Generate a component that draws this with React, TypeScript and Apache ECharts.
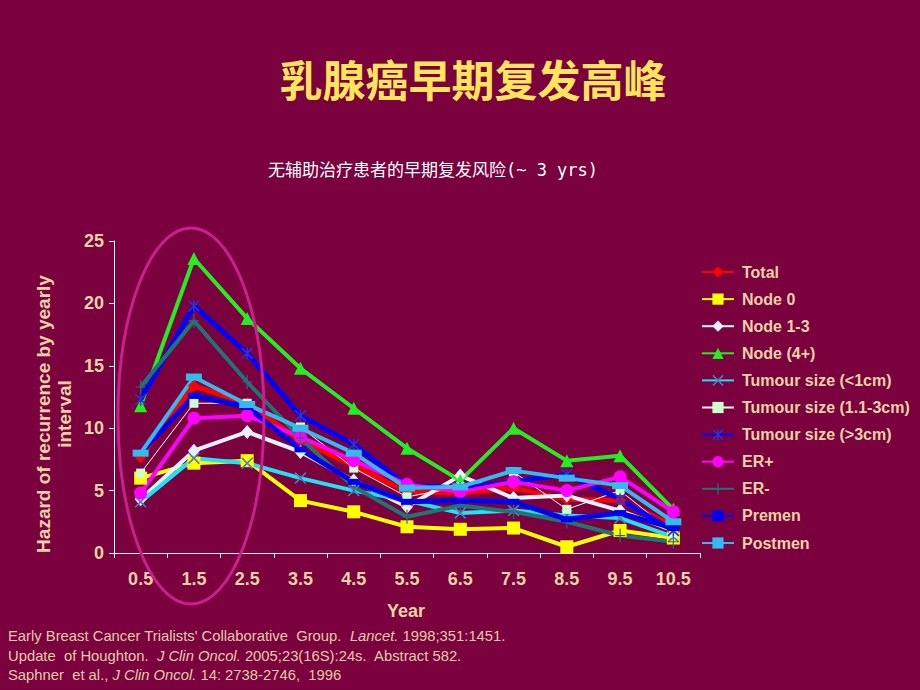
import React, { useEffect, useRef } from "react";
import * as echarts from "echarts";

const years = ["0.5", "1.5", "2.5", "3.5", "4.5", "5.5", "6.5", "7.5", "8.5", "9.5", "10.5"];
const yTicks = { min: 0, max: 25, interval: 5 };

const total = [7.7, 13.4, 12.0, 9.0, 7.0, 4.9, 4.8, 5.2, 4.3, 4.2, 2.2];
const node0 = [6.0, 7.2, 7.4, 4.2, 3.3, 2.1, 1.9, 2.0, 0.5, 1.8, 1.2];
const node13 = [4.3, 8.2, 9.7, 8.1, 5.8, 3.7, 6.2, 4.4, 4.6, 3.4, 1.8];
const node4 = [11.8, 23.6, 18.8, 14.8, 11.6, 8.4, 5.8, 10.0, 7.4, 7.8, 3.5];
const sizeLt1 = [4.1, 7.6, 7.2, 6.0, 5.0, 4.2, 3.2, 3.4, 3.0, 2.8, 1.3];
const size1to3 = [6.4, 12.0, 12.0, 10.1, 6.8, 4.5, 5.3, 6.5, 3.5, 5.0, 1.6];
const sizeGt3 = [12.3, 19.8, 16.0, 11.0, 8.7, 5.4, 5.2, 5.7, 6.3, 4.3, 1.8];
const erPos = [4.8, 10.8, 11.0, 9.3, 7.4, 5.5, 4.9, 5.7, 5.0, 6.1, 3.3];
const erNeg = [13.3, 18.6, 13.7, 9.2, 5.3, 2.9, 3.8, 3.3, 2.5, 1.4, 0.9];
const premen = [8.0, 12.6, 11.7, 8.3, 5.7, 4.1, 4.2, 4.1, 2.7, 3.2, 2.0];
const postmen = [8.0, 14.1, 11.9, 10.0, 8.0, 5.2, 5.3, 6.6, 6.0, 5.4, 2.5];

const titleText = "乳腺癌早期复发高峰";
const subtitleText = "无辅助治疗患者的早期复发风险(~ 3 yrs)";
const yName = "Hazard of recurrence by yearly\ninterval";
const xName = "Year";
const refs = [
  "Early Breast Cancer Trialists' Collaborative  Group.  {i|Lancet.} 1998;351:1451.",
  "Update  of Houghton.  {i|J Clin Oncol.} 2005;23(16S):24s.  Abstract 582.",
  "Saphner  et al., {i|J Clin Oncol.} 14: 2738-2746,  1996",
];

const BG = "#7A003E";
const TAN = "#EBD3A5";
const FONT = "'Liberation Sans', Arial, sans-serif";

const X_PATH = "path://M0,1L1,0L10,9L9,10ZM9,0L10,1L1,10L0,9Z";
const STAR_PATH = "path://M0,1L1,0L10,9L9,10ZM9,0L10,1L1,10L0,9ZM4.4,0L5.6,0L5.6,10L4.4,10Z";
const PLUS_PATH = "path://M4.4,0L5.6,0L5.6,14L4.4,14ZM0,6.4L10,6.4L10,7.6L0,7.6Z";

function mk(name: string, data: number[], color: string, width: number, symbol: string, size: any, symColor?: string) {
  return {
    name,
    type: "line",
    data,
    symbol,
    symbolSize: size,
    showSymbol: true,
    lineStyle: { color, width },
    itemStyle: { color: symColor || color },
    emphasis: { disabled: true },
  };
}

export default function App() {
  const ref = useRef<HTMLDivElement>(null);
  useEffect(() => {
    if (!ref.current) return;
    const chart = echarts.init(ref.current, undefined, { renderer: "svg" });
    const series = [
      mk("Total", total, "#FF0000", 5, "diamond", 12),
      mk("Node 0", node0, "#FFFF00", 4, "rect", 13),
      mk("Node 1-3", node13, "#E4F2FF", 4, "diamond", [12, 14]),
      mk("Node (4+)", node4, "#22EE22", 4, "triangle", 13),
      mk("Tumour size (<1cm)", sizeLt1, "#22E2F2", 4, X_PATH, 12, "#4A80B8"),
      mk("Tumour size (1.1-3cm)", size1to3, "#FFFFFF", 1, "rect", 9, "#CCFFCC"),
      mk("Tumour size (>3cm)", sizeGt3, "#0000FF", 5, STAR_PATH, 12, "#3030C8"),
      mk("ER+", erPos, "#FF00FF", 4, "circle", 13),
      mk("ER-", erNeg, "#217474", 4, PLUS_PATH, [10, 14], "#2A6A80"),
      mk("Premen", premen, "#0000EE", 5, "rect", [12, 6]),
      mk("Postmen", postmen, "#33BBEE", 4, "rect", [16, 7]),
    ];
    chart.setOption({
      animation: false,
      backgroundColor: BG,
      grid: { left: 114, top: 241, width: 586, height: 312, containLabel: false },
      xAxis: {
        type: "category",
        data: years,
        boundaryGap: true,
        axisLine: { show: true, lineStyle: { color: "#FFFFFF", width: 1 } },
        axisTick: { show: true, length: 5, lineStyle: { color: "#FFFFFF" } },
        axisLabel: { color: TAN, fontSize: 18, fontWeight: "bold", fontFamily: FONT, margin: 17 },
        splitLine: { show: false },
      },
      yAxis: {
        type: "value",
        min: yTicks.min,
        max: yTicks.max,
        interval: yTicks.interval,
        axisLine: { show: true, lineStyle: { color: "#FFFFFF", width: 1 } },
        axisTick: { show: true, length: 5, lineStyle: { color: "#FFFFFF" } },
        axisLabel: { color: TAN, fontSize: 18, fontWeight: "bold", fontFamily: FONT, margin: 10 },
        splitLine: { show: false },
      },
      legend: {
        orient: "vertical",
        left: 701,
        top: 264,
        padding: 0,
        itemWidth: 32,
        itemHeight: 14,
        itemGap: 11.1,
        selectedMode: false,
        textStyle: {
          color: TAN,
          fontSize: 16,
          lineHeight: 14,
          fontWeight: "bold",
          fontFamily: FONT,
          padding: [0, 0, 0, 3],
        },
        data: series.map((s) => s.name),
      },
      series,
      graphic: [
        {
          type: "text",
          style: {
            x: 473,
            y: 78,
            text: titleText,
            fill: "#FFE55C",
            font: "bold 43px 'Noto Sans CJK SC', sans-serif",
            align: "center",
            verticalAlign: "middle",
          },
        },
        {
          type: "text",
          style: {
            x: 433,
            y: 170,
            text: subtitleText,
            fill: "#FFFFFF",
            font: "17px 'DejaVu Sans Mono', 'Noto Sans CJK SC', monospace",
            align: "center",
            verticalAlign: "middle",
          },
        },
        {
          type: "text",
          x: 54,
          y: 414,
          rotation: Math.PI / 2,
          style: {
            x: 0,
            y: 0,
            text: yName,
            fill: TAN,
            font: "bold 19px " + FONT,
            align: "center",
            verticalAlign: "middle",
            lineHeight: 21,
          },
        },
        {
          type: "text",
          style: {
            x: 406,
            y: 611,
            text: xName,
            fill: TAN,
            font: "bold 18px " + FONT,
            align: "center",
            verticalAlign: "middle",
          },
        },
        ...refs.map((t, i) => ({
          type: "text",
          style: {
            x: 8,
            y: 636 + i * 19.5,
            text: t,
            fill: "#E6CBA8",
            font: "14.8px " + FONT,
            fontSize: 14.8,
            fontFamily: FONT,
            align: "left",
            verticalAlign: "middle",
            rich: { i: { fontStyle: "italic", fontSize: 14.8, fontFamily: FONT, fill: "#E6CBA8" } },
          },
        })),
        {
          type: "ellipse",
          z: 100,
          shape: { cx: 191, cy: 416, rx: 73, ry: 188 },
          style: { fill: "none", stroke: "#C8208E", lineWidth: 3 },
        },
      ],
    });
    return () => chart.dispose();
  }, []);
  return (
    <div
      ref={ref}
      style={{ position: "fixed", left: 0, top: 0, width: 920, height: 690, background: BG }}
    />
  );
}
